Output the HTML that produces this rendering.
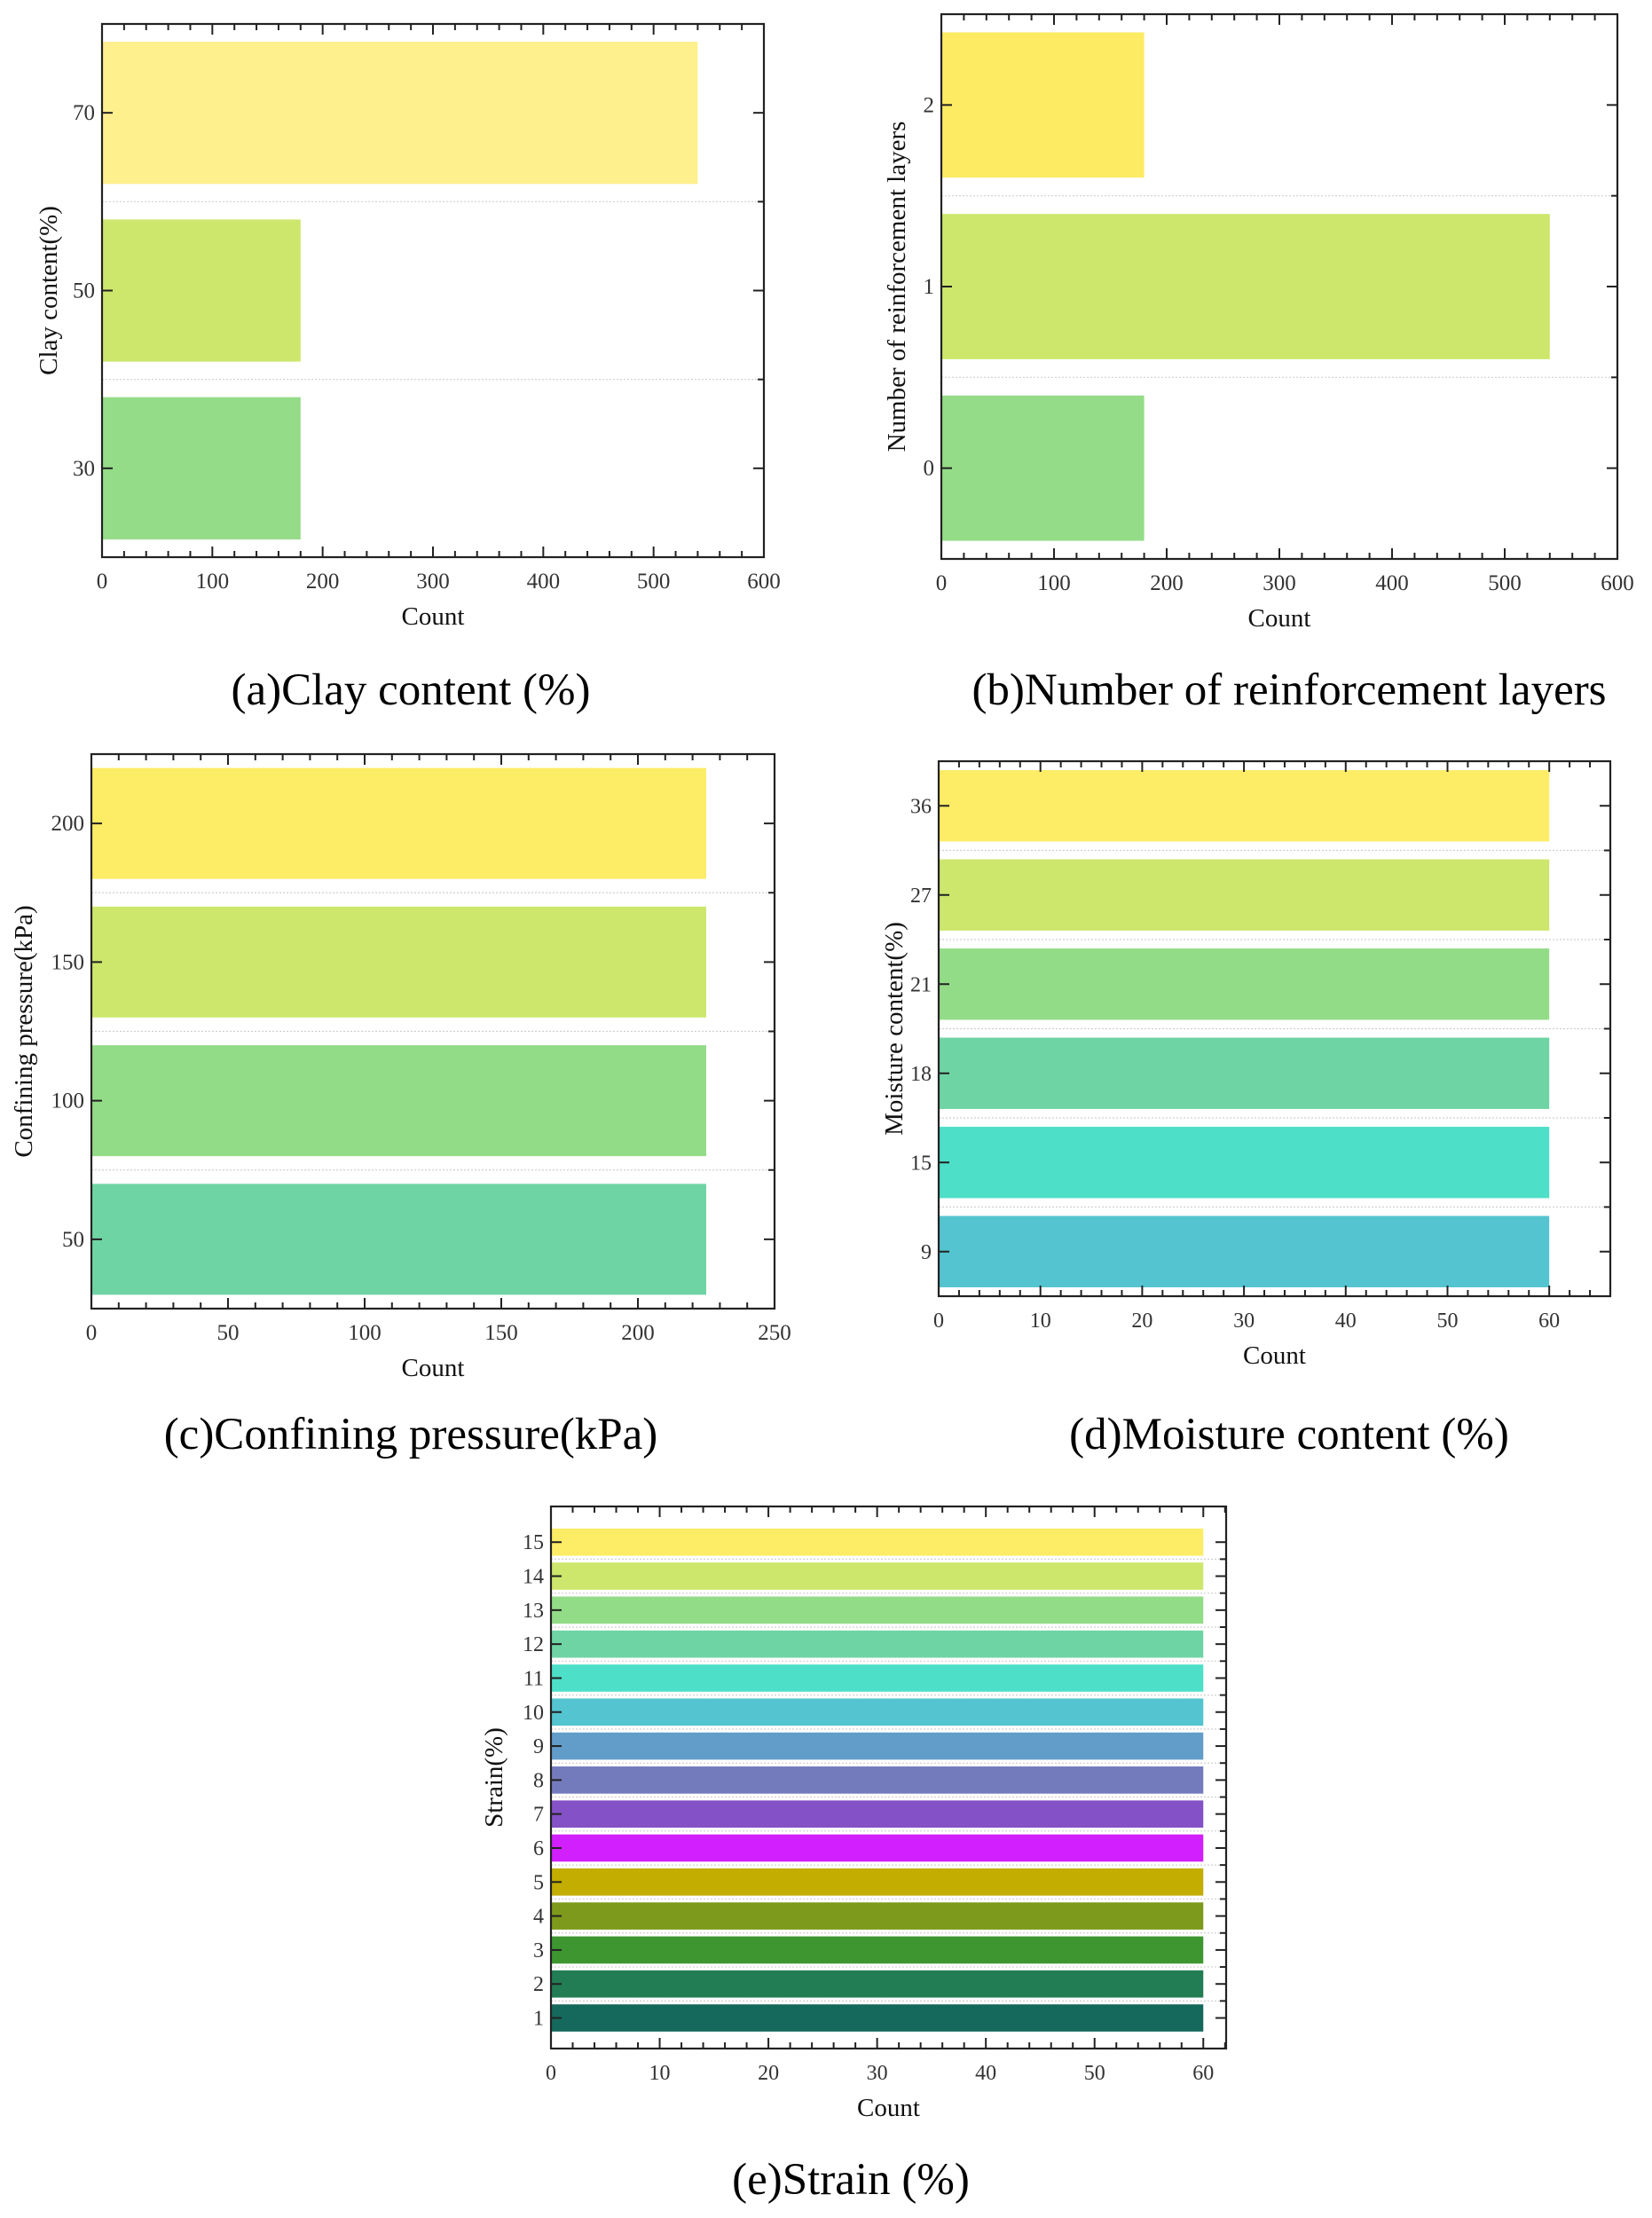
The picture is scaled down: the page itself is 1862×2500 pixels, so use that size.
<!DOCTYPE html>
<html><head><meta charset="utf-8"><style>
html,body{margin:0;padding:0;background:#fff;}
svg{display:block;}
text{font-family:"Liberation Serif",serif;}
</style></head><body>
<svg id="fig" width="1862" height="2500" viewBox="0 0 1862 2500" xmlns="http://www.w3.org/2000/svg"></svg>
<script>
// (a) Clay content
const aCategories = ["30","50","70"];
const aValues = [180,180,540];
const aXTicks = [0,100,200,300,400,500,600];
// (b) Reinforcement layers
const bCategories = ["0","1","2"];
const bValues = [180,540,180];
const bXTicks = [0,100,200,300,400,500,600];
// (c) Confining pressure
const cCategories = ["50","100","150","200"];
const cValues = [225,225,225,225];
const cXTicks = [0,50,100,150,200,250];
// (d) Moisture content
const dCategories = ["9","15","18","21","27","36"];
const dValues = [60,60,60,60,60,60];
const dXTicks = [0,10,20,30,40,50,60];
// (e) Strain
const eCategories = ["1","2","3","4","5","6","7","8","9","10","11","12","13","14","15"];
const eValues = [60,60,60,60,60,60,60,60,60,60,60,60,60,60,60];
const eXTicks = [0,10,20,30,40,50,60];

const NS="http://www.w3.org/2000/svg";
const svg=document.getElementById('fig');
function mk(tag,attrs,parent){const e=document.createElementNS(NS,tag);for(const k in attrs)e.setAttribute(k,attrs[k]);(parent||svg).appendChild(e);return e;}

function panel(o){
  const g=mk('g',{});
  
  
  const n=o.cats.length;
  const lo=o.ylo!==undefined?o.ylo:-0.5, hi=o.yhi!==undefined?o.yhi:n-0.5;
  const xs=v=>o.L+(v-0)/(o.xmax)*(o.R-o.L);
  const ys=i=>o.B-(i-lo)/(hi-lo)*(o.B-o.T);
  for(let i=0;i<n-1;i++){
    const gl=mk('line',{x1:o.L,x2:o.R,y1:ys(i+0.5),y2:ys(i+0.5),stroke:'#cfcfcf','stroke-width':1.2,'stroke-dasharray':'2,2'},g);
    
    
  }
  const bh=(ys(0)-ys(0.8));
  o.vals.forEach((v,i)=>{
    const r=mk('rect',{x:xs(0),y:ys(i)-bh/2,width:xs(v)-xs(0),height:bh,fill:o.colors[i]},g);
    
    
  });
  const fr=mk('rect',{x:o.L,y:o.T,width:o.R-o.L,height:o.B-o.T,fill:'none',stroke:'#222','stroke-width':2.2},g);
  
  
  const step=o.xt[1]-o.xt[0];
  const minor=step/5;
  for(let v=0;v<=o.xmax+1e-9;v+=minor){
    const isMaj=Math.abs(v/step-Math.round(v/step))<1e-6;
    const len=isMaj?12:7;
    mk('line',{x1:xs(v),x2:xs(v),y1:o.B,y2:o.B-len,stroke:'#222','stroke-width':2},g);
    mk('line',{x1:xs(v),x2:xs(v),y1:o.T,y2:o.T+len,stroke:'#222','stroke-width':2},g);
  }
  o.xt.forEach(v=>{
    const t=mk('text',{x:xs(v),y:o.B+35,'font-size':o.fs||25,'text-anchor':'middle',fill:'#333'},g);
    t.textContent=v;
    
    
  });
  o.cats.forEach((c,i)=>{
    const y=ys(i);
    mk('line',{x1:o.L,x2:o.L+12,y1:y,y2:y,stroke:'#222','stroke-width':2},g);
    mk('line',{x1:o.R,x2:o.R-12,y1:y,y2:y,stroke:'#222','stroke-width':2},g);
    const t=mk('text',{x:o.L-8,y:y+8,'font-size':o.fs||25,'text-anchor':'end',fill:'#333'},g);
    t.textContent=c;
    
    
  });
  for(let i=0;i<n-1;i++){
    mk('line',{x1:o.R,x2:o.R-7,y1:ys(i+0.5),y2:ys(i+0.5),stroke:'#222','stroke-width':2},g);
  }
  const xt=mk('text',{x:(o.L+o.R)/2,y:o.B+76,'font-size':29,'text-anchor':'middle',fill:'#111'},g);
  xt.textContent='Count';
  
  
  const yt=mk('text',{x:0,y:0,'font-size':29,'text-anchor':'middle',fill:'#111',transform:`translate(${o.ytx},${(o.T+o.B)/2}) rotate(-90)`},g);
  yt.textContent=o.ytitle;
  
  
  const cap=mk('text',{x:o.capx,y:o.capy,'font-size':51,'text-anchor':'middle',fill:'#000'},g);
  cap.textContent=o.caption;
  
  
}
const pal=["#15685c","#227c54","#3d962f","#7d9a1c","#c2ad00","#d11ffd","#8452c6","#737bbd","#629dc9","#53c4d0","#4ddfc8","#6fd4a4","#93dc87","#cde76d","#fdec66"];
panel({name:'clay-content',cats:aCategories,vals:aValues,xt:aXTicks,xmax:600,L:115,R:861,T:27,B:628,colors:["#94dc87","#cde76d","#fff08e"],ytitle:'Clay content(%)',ytx:64,caption:'(a)Clay content (%)',capx:463,capy:794});
panel({name:'reinforcement-layers',cats:bCategories,vals:bValues,xt:bXTicks,xmax:600,L:1061,R:1823,T:16,B:630,colors:["#94dc87","#cde76d","#fdeb64"],ytitle:'Number of reinforcement layers',ytx:1020,caption:'(b)Number of reinforcement layers',capx:1453,capy:794});
panel({name:'confining-pressure',cats:cCategories,vals:cValues,xt:cXTicks,xmax:250,L:103,R:873,T:850,B:1475,colors:["#6fd4a4","#93dc87","#cde76d","#fdec66"],ytitle:'Confining pressure(kPa)',ytx:36,caption:'(c)Confining pressure(kPa)',capx:463,capy:1633});
panel({name:'moisture-content',cats:dCategories,vals:dValues,xt:dXTicks,xmax:66,L:1058,R:1815,T:858,B:1461,colors:["#53c4d0","#4ddfc8","#6fd4a4","#93dc87","#cde76d","#fdec66"],ytitle:'Moisture content(%)',ytx:1017,caption:'(d)Moisture content (%)',capx:1453,capy:1633,fs:24});
panel({name:'strain',cats:eCategories,vals:eValues,xt:eXTicks,xmax:62.1,L:621,R:1382,T:1698,B:2309,ylo:-0.9,yhi:15.05,colors:pal,ytitle:'Strain(%)',ytx:566,caption:'(e)Strain (%)',capx:959,capy:2473,fs:24});
</script>
</body></html>
